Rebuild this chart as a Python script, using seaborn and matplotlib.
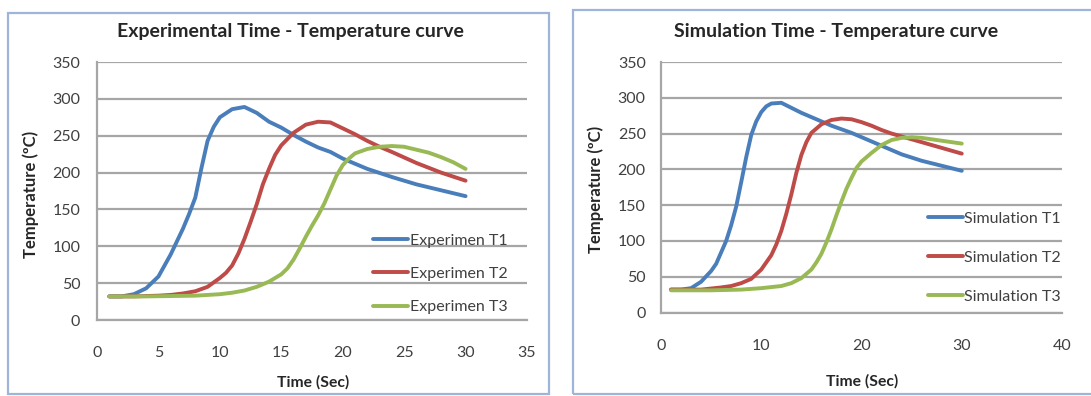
import matplotlib
matplotlib.use("Agg")
import matplotlib.pyplot as plt
from matplotlib.patches import Rectangle
import seaborn as sns
import pandas as pd

# ---------------- data ----------------
exp_t1_time = [1, 2, 3, 4, 5, 6, 7, 7.5, 8, 8.5, 9, 9.5, 10, 11, 12, 13, 14, 15, 16, 17, 18, 19, 20, 22, 24, 26, 28, 30]
exp_t1_temp = [32, 32, 35, 43, 59, 89, 124, 144, 166, 206, 243, 262, 275, 286, 289, 281, 269, 261, 251, 242, 234, 228, 219, 205, 194, 184, 176, 168]

exp_t2_time = [1, 3, 5, 6, 7, 8, 9, 10, 10.5, 11, 11.5, 12, 12.5, 13, 13.5, 14, 14.5, 15, 16, 17, 18, 19, 20, 21, 22, 23, 24, 26, 28, 30]
exp_t2_temp = [32, 32, 33, 34, 36, 39, 45, 57, 64, 74, 90, 110, 133, 157, 184, 205, 224, 237, 254, 265, 269, 268, 260, 252, 243, 235, 228, 213, 200, 189]

exp_t3_time = [1, 4, 8, 10, 11, 12, 13, 14, 15, 15.5, 16, 16.5, 17, 17.5, 18, 18.5, 19, 19.5, 20, 20.5, 21, 22, 23, 24, 25, 26, 27, 28, 29, 30]
exp_t3_temp = [32, 32, 33, 35, 37, 40, 45, 52, 62, 70, 82, 97, 113, 128, 142, 158, 177, 196, 210, 219, 226, 232, 235, 236, 235, 231, 227, 221, 214, 205]

sim_t1_time = [1, 2, 3, 4, 5, 5.5, 6, 6.5, 7, 7.5, 8, 8.5, 9, 9.5, 10, 10.5, 11, 12, 13, 14, 15, 16, 17, 18, 19, 20, 21, 22, 24, 26, 28, 30]
sim_t1_temp = [32, 32, 34, 43, 58, 68, 84, 100, 122, 148, 182, 217, 248, 267, 280, 288, 292, 293, 286, 279, 273, 267, 261, 256, 251, 245, 239, 233, 221, 212, 205, 198]

sim_t2_time = [1, 4, 6, 7, 8, 9, 10, 10.5, 11, 11.5, 12, 12.5, 13, 13.5, 14, 14.5, 15, 16, 17, 18, 19, 20, 21, 22, 23, 24, 26, 28, 30]
sim_t2_temp = [32, 32, 35, 37, 41, 47, 60, 70, 80, 95, 114, 138, 165, 195, 220, 238, 251, 263, 269, 271, 270, 266, 261, 255, 250, 246, 238, 230, 222]

sim_t3_time = [1, 5, 8, 10, 12, 13, 14, 15, 15.5, 16, 16.5, 17, 17.5, 18, 18.5, 19, 19.5, 20, 21, 22, 23, 24, 25, 26, 28, 30]
sim_t3_temp = [31, 31, 32, 34, 37, 41, 48, 60, 70, 82, 98, 116, 136, 155, 173, 188, 202, 211, 223, 234, 241, 244, 245, 244, 240, 236]

exp_labels = ["Experimen T1", "Experimen T2", "Experimen T3"]
sim_labels = ["Simulation T1", "Simulation T2", "Simulation T3"]

left_xticks = [0, 5, 10, 15, 20, 25, 30, 35]
right_xticks = [0, 10, 20, 30, 40]
yticks = [0, 50, 100, 150, 200, 250, 300, 350]

colors = ["#4a7ebb", "#be4b48", "#98b954"]


def long_frame(times, temps, labels):
    rows = []
    for tt, yy, lab in zip(times, temps, labels):
        for a, b in zip(tt, yy):
            rows.append({"Time": a, "Temp": b, "Series": lab})
    return pd.DataFrame(rows)


df_exp = long_frame([exp_t1_time, exp_t2_time, exp_t3_time],
                    [exp_t1_temp, exp_t2_temp, exp_t3_temp], exp_labels)
df_sim = long_frame([sim_t1_time, sim_t2_time, sim_t3_time],
                    [sim_t1_temp, sim_t2_temp, sim_t3_temp], sim_labels)

sns.set_style("white")
plt.rcParams["font.family"] = ["Lato", "DejaVu Sans"]

W, H = 1091, 396
fig = plt.figure(figsize=(W / 100, H / 100), dpi=100)


def px_axes(x0, x1, ytop, ybot):
    return fig.add_axes([x0 / W, (H - ybot) / H, (x1 - x0) / W, (ybot - ytop) / H])


# chart frames
frame_col = "#9db5d9"
fig.patches.append(Rectangle((8 / W, (H - 394) / H), (549 - 8) / W, (394 - 13) / H,
                             transform=fig.transFigure, fill=False, ec=frame_col, lw=1.6))
fig.patches.append(Rectangle((573 / W, (H - 394) / H), (1100 - 573) / W, (394 - 10) / H,
                             transform=fig.transFigure, fill=False, ec=frame_col, lw=1.6))

grid_col = "#a6a6a6"
tick_col = "#404040"
FS = 11.5


def style(ax, xlim, xticks):
    ax.set_xlim(*xlim)
    ax.set_ylim(0, 350)
    ax.set_xticks(xticks)
    ax.set_yticks(yticks)
    ax.yaxis.grid(True, color=grid_col, lw=1.6)
    ax.xaxis.grid(False)
    ax.set_axisbelow(True)
    for s in ["top", "right"]:
        ax.spines[s].set_visible(False)
    for s in ["left", "bottom"]:
        ax.spines[s].set_color(grid_col)
        ax.spines[s].set_linewidth(1.6)
    ax.tick_params(length=0, labelsize=FS, labelcolor=tick_col)
    ax.set_xlabel("")
    ax.set_ylabel("")
    for ln in ax.get_lines():
        ln.set_solid_joinstyle("round")
        ln.set_solid_capstyle("round")


# -------- left: experimental --------
ax1 = px_axes(97, 527, 62, 320)
sns.lineplot(data=df_exp, x="Time", y="Temp", hue="Series", palette=colors,
             linewidth=2.8, ax=ax1, sort=False, estimator=None)
style(ax1, (0, 35), left_xticks)
ax1.tick_params(axis="x", pad=19)
ax1.tick_params(axis="y", pad=12)
ax1.legend(loc="upper left", bbox_to_anchor=(365 / W, (H - 225.5) / H),
           bbox_transform=fig.transFigure, frameon=False, fontsize=FS,
           handlelength=2.2, handletextpad=0.1, labelspacing=1.2, borderpad=0,
           labelcolor=tick_col)

# -------- right: simulation --------
ax2 = px_axes(661, 1062, 62, 312.5)
sns.lineplot(data=df_sim, x="Time", y="Temp", hue="Series", palette=colors,
             linewidth=2.8, ax=ax2, sort=False, estimator=None)
style(ax2, (0, 40), right_xticks)
ax2.tick_params(axis="x", pad=19)
ax2.tick_params(axis="y", pad=11)
ax2.legend(loc="upper left", bbox_to_anchor=(920 / W, (H - 203.5) / H),
           bbox_transform=fig.transFigure, frameon=False, fontsize=FS,
           handlelength=2.2, handletextpad=0.05, labelspacing=1.55, borderpad=0,
           labelcolor=tick_col)

# titles and axis labels
tcol = "#262626"
fig.text(290 / W, 1 - 32 / H, "Experimental Time - Temperature curve", ha="center", va="center",
         fontsize=14, fontweight="bold", color=tcol)
fig.text(836 / W, 1 - 31 / H, "Simulation Time - Temperature curve", ha="center", va="center",
         fontsize=14, fontweight="bold", color=tcol)
fig.text(313 / W, 1 - 382 / H, "Time (Sec)", ha="center", va="center",
         fontsize=11.3, fontweight="bold", color=tcol)
fig.text(862 / W, 1 - 381 / H, "Time (Sec)", ha="center", va="center",
         fontsize=11.3, fontweight="bold", color=tcol)
fig.text(31 / W, 1 - 194 / H, "Temperature (ºC)", ha="center", va="center", rotation=90,
         fontsize=12, fontweight="bold", color=tcol)
fig.text(596 / W, 1 - 189 / H, "Temperature (ºC)", ha="center", va="center", rotation=90,
         fontsize=12, fontweight="bold", color=tcol)

fig.savefig("out.png", dpi=100)
